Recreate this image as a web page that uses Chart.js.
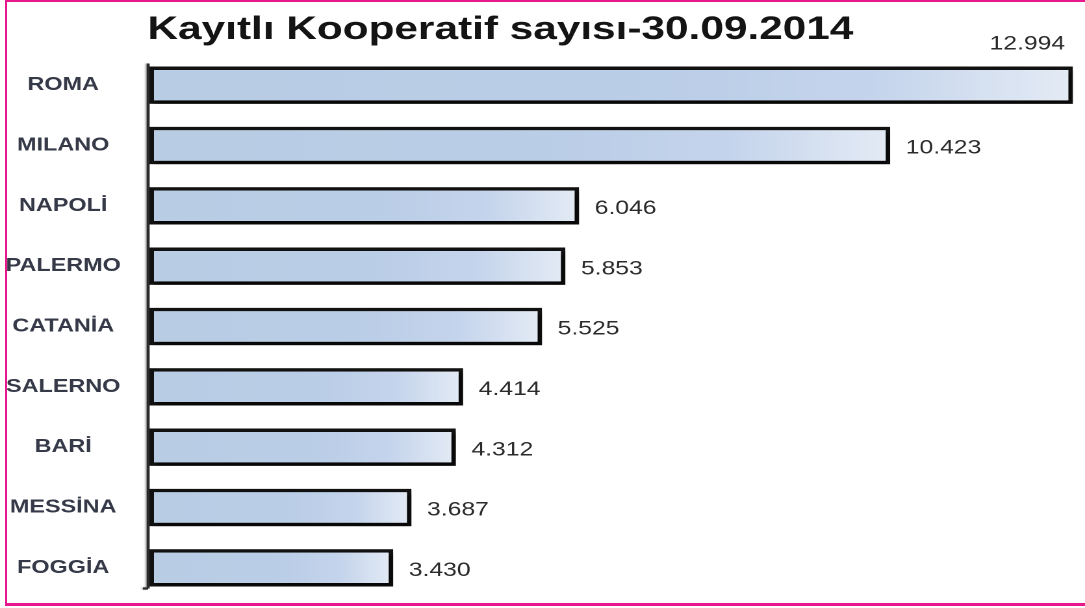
<!DOCTYPE html>
<html>
<head>
<meta charset="utf-8">
<script src="https://cdn.jsdelivr.net/npm/chart.js@4.4.0/dist/chart.umd.min.js"></script>
<style>
  html, body { margin: 0; padding: 0; background: #ffffff; overflow: hidden; }
  #stage { position: absolute; left: 0; top: 0; width: 1085px; height: 608px; background: #fff; }
  #wrap { position: absolute; left: 0; top: 0; width: 835px; height: 608px; transform: scaleX(1.2994); transform-origin: 0 0; }
  #frame { position: absolute; left: 5px; top: 0px; width: 1085px; height: 606px;
           border-left: 2.5px solid #e8188c; border-top: 2px solid #e8188c; border-bottom: 3px solid #e8188c;
           box-sizing: border-box; pointer-events: none; }
</style>
</head>
<body>
<div id="stage">
  <div id="wrap"><canvas id="c"></canvas></div>
  <div id="frame"></div>
</div>
<script>
const chartTitle = 'Kayıtlı Kooperatif sayısı-30.09.2014';
const categories = ['ROMA', 'MILANO', 'NAPOLİ', 'PALERMO', 'CATANİA', 'SALERNO', 'BARİ', 'MESSİNA', 'FOGGİA'];
const cooperatives = [12994, 10423, 6046, 5853, 5525, 4414, 4312, 3687, 3430];
const axisMin = 0;
const axisMax = 13000;

function fmt(v) {
  return String(v).replace(/\B(?=(\d{3})+(?!\d))/g, '.');
}

function barGradient(ctx) {
  const chart = ctx.chart;
  const xs = chart.scales && chart.scales.x;
  if (!xs || !chart.chartArea || ctx.raw === undefined) return '#b9cde5';
  const x0 = xs.getPixelForValue(0);
  const x1 = xs.getPixelForValue(ctx.raw);
  if (!isFinite(x0) || !isFinite(x1) || x1 <= x0) return '#b9cde5';
  const g = chart.ctx.createLinearGradient(x0, 0, x1, 0);
  g.addColorStop(0, '#b8cce4');
  g.addColorStop(0.55, '#bbcee7');
  g.addColorStop(0.78, '#c4d4ec');
  g.addColorStop(1, '#e4ebf5');
  return g;
}

const decor = {
  id: 'decor',
  beforeDatasetsDraw(chart) {
    const c = chart.ctx;
    c.save();
    c.shadowColor = 'rgba(0,0,0,0.6)';
    c.shadowBlur = 6;
    c.shadowOffsetX = 5;
    c.shadowOffsetY = 7;
  },
  afterDatasetsDraw(chart) {
    const c = chart.ctx;
    c.restore();
    const meta = chart.getDatasetMeta(0);
    const bars = meta.data;
    const area = chart.chartArea;
    // axis line
    const first = bars[0], last = bars[bars.length - 1];
    const top = first.y - first.height / 2 - 3;
    const bottom = last.y + last.height / 2 + 2;
    const ax = area.left - 1;
    c.save();
    c.shadowColor = 'rgba(0,0,0,0.35)';
    c.shadowBlur = 3;
    c.shadowOffsetX = -2;
    c.strokeStyle = '#2a2a2a';
    c.lineWidth = 2.3;
    c.beginPath();
    c.moveTo(ax, top);
    c.lineTo(ax, bottom);
    c.moveTo(ax - 4, bottom);
    c.lineTo(ax, bottom);
    c.stroke();
    c.restore();
    // value labels
    c.save();
    c.font = '19px "Liberation Sans", Arial, sans-serif';
    c.fillStyle = '#2b2b2b';
    c.textBaseline = 'middle';
    bars.forEach((b, i) => {
      const txt = fmt(cooperatives[i]);
      const w = c.measureText(txt).width;
      if (b.x + 12 + w > chart.width - 2) {
        c.textAlign = 'right';
        c.fillText(txt, b.x - 6, b.y - b.height / 2 - 22);
      } else {
        c.textAlign = 'left';
        c.fillText(txt, b.x + 12, b.y + 3);
      }
    });
    c.restore();
    // title
    c.save();
    c.font = 'bold 32.6px "Liberation Sans", Arial, sans-serif';
    c.fillStyle = '#141414';
    c.textAlign = 'left';
    c.textBaseline = 'alphabetic';
    c.fillText(chartTitle, area.left - 1.5, 39);
    c.restore();
  }
};

new Chart(document.getElementById('c'), {
  type: 'bar',
  data: {
    labels: categories,
    datasets: [{
      data: cooperatives,
      backgroundColor: barGradient,
      borderColor: '#111111',
      borderWidth: 3.5,
      borderSkipped: false,
      categoryPercentage: 1,
      barPercentage: 0.62
    }]
  },
  options: {
    indexAxis: 'y',
    responsive: true,
    maintainAspectRatio: false,
    devicePixelRatio: 2,
    animation: false,
    layout: { padding: { top: 55, bottom: 10, left: 0, right: 9 } },
    plugins: {
      legend: { display: false },
      title: { display: false },
      tooltip: { enabled: false }
    },
    scales: {
      x: {
        display: false,
        min: axisMin,
        max: axisMax
      },
      y: {
        grid: { display: false, drawTicks: false },
        border: { display: false },
        afterFit(scale) {
          scale.width = 115;
          scale.paddingTop = 0;
          scale.paddingBottom = 0;
        },
        ticks: {
          crossAlign: 'center',
          padding: 22,
          color: '#363a48',
          font: { family: '"Liberation Sans", Arial, sans-serif', size: 18, weight: 'bold' }
        }
      }
    }
  },
  plugins: [decor]
});
</script>
</body>
</html>
